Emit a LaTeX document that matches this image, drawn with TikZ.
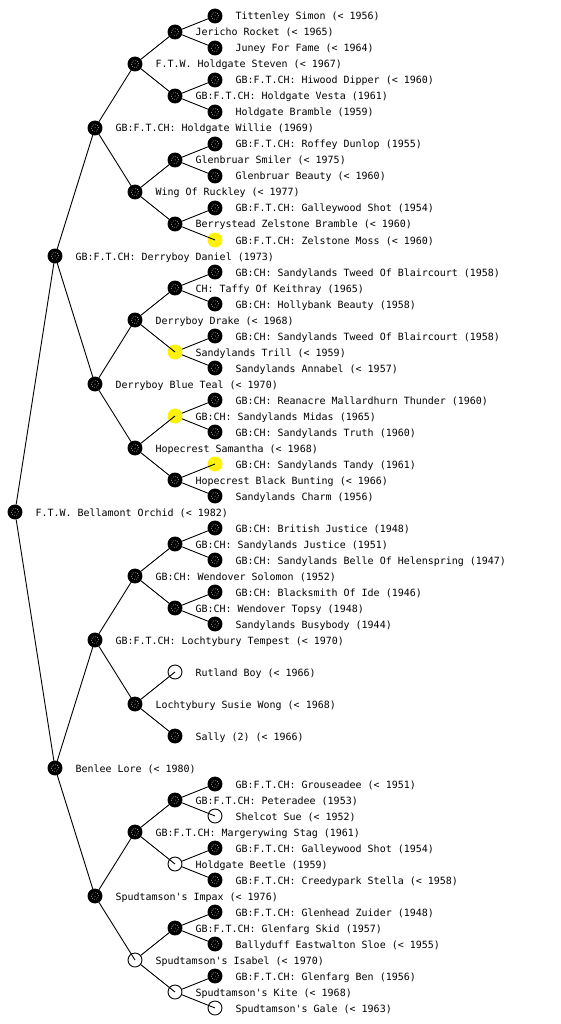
\documentclass[tikz,border=0pt]{standalone}
\usepackage{fontspec}
\newfontfamily\dogmono{DejaVu Sans Mono}
\tikzset{
  base/.style={circle, minimum size=14pt, inner sep=0pt, line width=0.9pt},
  bnode/.style={base, fill=black, draw=black,
    path picture={\draw[white, line width=0.6pt, dash pattern=on 0.6pt off 1.6pt]
      (path picture bounding box.center) circle (3.6pt);
      \fill[white] (path picture bounding box.center) circle (0.5pt);}},
  ynode/.style={base, fill=yellow, draw=yellow,
    path picture={\draw[yellow!60!white, line width=0.6pt, dash pattern=on 0.6pt off 1.6pt]
      (path picture bounding box.center) circle (3.6pt);}},
  onode/.style={base, draw=black},
  lbl/.style={anchor=base west, inner sep=0pt, font=\dogmono\fontsize{9.97}{12}\selectfont},
  conn/.style={draw=black, line width=0.9pt}
}
\newcommand\dognode[5]{%
  \node[#4] (n#1) at (#2,#3) {};
  \node[lbl] (t#1) at (#2+20.5,#3+4) {#5};
}
\begin{document}
\begin{tikzpicture}[x=1pt,y=-1pt]
\useasboundingbox[fill=white] (0,0) rectangle (560,1024);
\dognode{1}{215}{16}{bnode}{Tittenley Simon (< 1956)}
\dognode{2}{175}{32}{bnode}{Jericho Rocket (< 1965)}
\dognode{3}{215}{48}{bnode}{Juney For Fame (< 1964)}
\dognode{4}{135}{64}{bnode}{F.T.W. Holdgate Steven (< 1967)}
\dognode{5}{215}{80}{bnode}{GB:F.T.CH: Hiwood Dipper (< 1960)}
\dognode{6}{175}{96}{bnode}{GB:F.T.CH: Holdgate Vesta (1961)}
\dognode{7}{215}{112}{bnode}{Holdgate Bramble (1959)}
\dognode{8}{95}{128}{bnode}{GB:F.T.CH: Holdgate Willie (1969)}
\dognode{9}{215}{144}{bnode}{GB:F.T.CH: Roffey Dunlop (1955)}
\dognode{10}{175}{160}{bnode}{Glenbruar Smiler (< 1975)}
\dognode{11}{215}{176}{bnode}{Glenbruar Beauty (< 1960)}
\dognode{12}{135}{192}{bnode}{Wing Of Ruckley (< 1977)}
\dognode{13}{215}{208}{bnode}{GB:F.T.CH: Galleywood Shot (1954)}
\dognode{14}{175}{224}{bnode}{Berrystead Zelstone Bramble (< 1960)}
\dognode{15}{215}{240}{ynode}{GB:F.T.CH: Zelstone Moss (< 1960)}
\dognode{16}{55}{256}{bnode}{GB:F.T.CH: Derryboy Daniel (1973)}
\dognode{17}{215}{272}{bnode}{GB:CH: Sandylands Tweed Of Blaircourt (1958)}
\dognode{18}{175}{288}{bnode}{CH: Taffy Of Keithray (1965)}
\dognode{19}{215}{304}{bnode}{GB:CH: Hollybank Beauty (1958)}
\dognode{20}{135}{320}{bnode}{Derryboy Drake (< 1968)}
\dognode{21}{215}{336}{bnode}{GB:CH: Sandylands Tweed Of Blaircourt (1958)}
\dognode{22}{175}{352}{ynode}{Sandylands Trill (< 1959)}
\dognode{23}{215}{368}{bnode}{Sandylands Annabel (< 1957)}
\dognode{24}{95}{384}{bnode}{Derryboy Blue Teal (< 1970)}
\dognode{25}{215}{400}{bnode}{GB:CH: Reanacre Mallardhurn Thunder (1960)}
\dognode{26}{175}{416}{ynode}{GB:CH: Sandylands Midas (1965)}
\dognode{27}{215}{432}{bnode}{GB:CH: Sandylands Truth (1960)}
\dognode{28}{135}{448}{bnode}{Hopecrest Samantha (< 1968)}
\dognode{29}{215}{464}{ynode}{GB:CH: Sandylands Tandy (1961)}
\dognode{30}{175}{480}{bnode}{Hopecrest Black Bunting (< 1966)}
\dognode{31}{215}{496}{bnode}{Sandylands Charm (1956)}
\dognode{32}{15}{512}{bnode}{F.T.W. Bellamont Orchid (< 1982)}
\dognode{33}{215}{528}{bnode}{GB:CH: British Justice (1948)}
\dognode{34}{175}{544}{bnode}{GB:CH: Sandylands Justice (1951)}
\dognode{35}{215}{560}{bnode}{GB:CH: Sandylands Belle Of Helenspring (1947)}
\dognode{36}{135}{576}{bnode}{GB:CH: Wendover Solomon (1952)}
\dognode{37}{215}{592}{bnode}{GB:CH: Blacksmith Of Ide (1946)}
\dognode{38}{175}{608}{bnode}{GB:CH: Wendover Topsy (1948)}
\dognode{39}{215}{624}{bnode}{Sandylands Busybody (1944)}
\dognode{40}{95}{640}{bnode}{GB:F.T.CH: Lochtybury Tempest (< 1970)}
\dognode{42}{175}{672}{onode}{Rutland Boy (< 1966)}
\dognode{44}{135}{704}{bnode}{Lochtybury Susie Wong (< 1968)}
\dognode{46}{175}{736}{bnode}{Sally (2) (< 1966)}
\dognode{48}{55}{768}{bnode}{Benlee Lore (< 1980)}
\dognode{49}{215}{784}{bnode}{GB:F.T.CH: Grouseadee (< 1951)}
\dognode{50}{175}{800}{bnode}{GB:F.T.CH: Peteradee (1953)}
\dognode{51}{215}{816}{onode}{Shelcot Sue (< 1952)}
\dognode{52}{135}{832}{bnode}{GB:F.T.CH: Margerywing Stag (1961)}
\dognode{53}{215}{848}{bnode}{GB:F.T.CH: Galleywood Shot (1954)}
\dognode{54}{175}{864}{onode}{Holdgate Beetle (1959)}
\dognode{55}{215}{880}{bnode}{GB:F.T.CH: Creedypark Stella (< 1958)}
\dognode{56}{95}{896}{bnode}{Spudtamson's Impax (< 1976)}
\dognode{57}{215}{912}{bnode}{GB:F.T.CH: Glenhead Zuider (1948)}
\dognode{58}{175}{928}{bnode}{GB:F.T.CH: Glenfarg Skid (1957)}
\dognode{59}{215}{944}{bnode}{Ballyduff Eastwalton Sloe (< 1955)}
\dognode{60}{135}{960}{onode}{Spudtamson's Isabel (< 1970)}
\dognode{61}{215}{976}{bnode}{GB:F.T.CH: Glenfarg Ben (1956)}
\dognode{62}{175}{992}{onode}{Spudtamson's Kite (< 1968)}
\dognode{63}{215}{1008}{onode}{Spudtamson's Gale (< 1963)}
\foreach \a/\b in {32/16,32/48,16/8,16/24,8/4,8/12,4/2,4/6,2/1,2/3,6/5,6/7,
  12/10,12/14,10/9,10/11,14/13,14/15,24/20,24/28,20/18,20/22,18/17,18/19,
  22/21,22/23,28/26,28/30,26/25,26/27,30/29,30/31,48/40,48/56,40/36,40/44,
  36/34,36/38,34/33,34/35,38/37,38/39,44/42,44/46,56/52,56/60,52/50,52/54,
  50/49,50/51,54/53,54/55,60/58,60/62,58/57,58/59,62/61,62/63}
  \draw[conn] (n\a) -- (n\b.center);
\end{tikzpicture}
\end{document}
